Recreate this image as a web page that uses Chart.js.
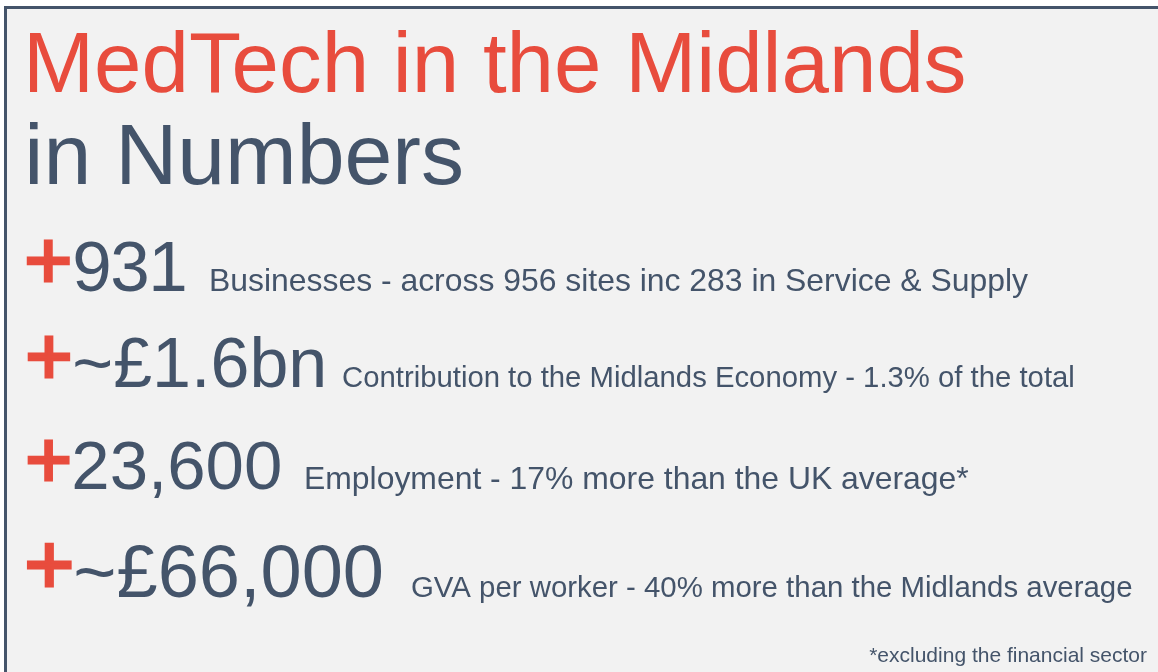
<!DOCTYPE html>
<html>
<head>
<meta charset="utf-8">
<script src="https://cdn.jsdelivr.net/npm/chart.js@4"></script>
<style>
  html, body { margin: 0; padding: 0; background: #ffffff; }
  #wrap { width: 1158px; height: 672px; }
</style>
</head>
<body>
<div id="wrap"><canvas id="grafico" width="1158" height="672"></canvas></div>
<script>
// headline text
const tituloLinha1 = 'MedTech in the Midlands';
const tituloLinha2 = 'in Numbers';
// the four headline figures and what they stand for
const figuras = ['931', '~£1.6bn', '23,600', '~£66,000'];
const descricoes = [
  'Businesses - across 956 sites inc 283 in Service & Supply',
  'Contribution to the Midlands Economy - 1.3% of the total',
  'Employment - 17% more than the UK average*',
  'GVA per worker - 40% more than the Midlands average'
];
const notaRodape = '*excluding the financial sector';

// styles
const VERMELHO = '#e84c3d';
const ARDOSIA = '#44546a';
const FUNDO = '#f2f2f2';
const FONTE = '"Liberation Sans", Arial, sans-serif';
const tamFigura = [71, 70, 69, 74];
const espacoFigura = ['-1.5px', '0px', '0px', '0px'];
const tamDescricao = [31.9, 29.3, 31.9, 29.4];
const xDescricao = [211, 343, 306, 412];   // ink left of each description
const ajusteBase = [2.4, -3, -1.8, 2.1];  // small per-row nudge of the baseline
const ESQ = 30;                           // ink left of title and plus signs

// place text so its ink (not its origin) starts at x
function textoEm(ctx, txt, xTinta, base) {
    const m = ctx.measureText(txt);
    ctx.fillText(txt, xTinta + m.actualBoundingBoxLeft, base);
    return xTinta + m.actualBoundingBoxLeft + m.actualBoundingBoxRight;
}

const textoPlugin = {
    id: 'textoPlugin',
    beforeDraw(chart) {
        const ctx = chart.ctx;
        ctx.save();
        ctx.fillStyle = '#ffffff';
        ctx.fillRect(0, 0, chart.width, chart.height);
        ctx.fillStyle = FUNDO;
        ctx.fillRect(4, 6, chart.width, chart.height);
        ctx.fillStyle = ARDOSIA;
        ctx.fillRect(4, 6, chart.width, 3);
        ctx.fillRect(4, 6, 3, chart.height);
        ctx.restore();
    },
    afterDraw(chart) {
        const ctx = chart.ctx;
        const y = chart.scales.y;
        ctx.save();
        ctx.textBaseline = 'alphabetic';
        ctx.textAlign = 'left';

        ctx.font = '85.3px ' + FONTE;
        ctx.fillStyle = VERMELHO;
        textoEm(ctx, tituloLinha1, ESQ, 92);
        ctx.font = '86px ' + FONTE;
        ctx.fillStyle = ARDOSIA;
        textoEm(ctx, tituloLinha2, ESQ - 0.7, 184);

        figuras.forEach((fig, i) => {
            const tam = tamFigura[i];
            const centro = y.getPixelForValue(i);
            const base = centro + tam * 0.716 / 2 + ajusteBase[i];
            const larguraMais = tam * 0.58;

            // red plus: regular weight, thickened with a thin outline
            ctx.font = '100px ' + FONTE;
            let m = ctx.measureText('+');
            const tamMais = 100 * larguraMais / (m.actualBoundingBoxLeft + m.actualBoundingBoxRight);
            ctx.font = tamMais + 'px ' + FONTE;
            m = ctx.measureText('+');
            const meioMais = base - tam * 0.716 + larguraMais / 2;
            const baseMais = meioMais + (m.actualBoundingBoxAscent - m.actualBoundingBoxDescent) / 2;
            ctx.fillStyle = VERMELHO;
            ctx.strokeStyle = VERMELHO;
            ctx.lineWidth = 3;
            const xMais = ESQ - 1.7 + m.actualBoundingBoxLeft;
            ctx.fillText('+', xMais, baseMais);
            ctx.strokeText('+', xMais, baseMais);
            const fimMais = xMais + m.actualBoundingBoxRight;

            ctx.font = tam + 'px ' + FONTE;
            ctx.letterSpacing = espacoFigura[i];
            ctx.fillStyle = ARDOSIA;
            textoEm(ctx, fig, fimMais + 6, base);
            ctx.letterSpacing = '0px';

            ctx.font = tamDescricao[i] + 'px ' + FONTE;
            textoEm(ctx, descricoes[i], xDescricao[i], base);
        });

        ctx.font = '21px ' + FONTE;
        ctx.textAlign = 'right';
        ctx.fillStyle = ARDOSIA;
        ctx.fillText(notaRodape, 1147, 662);
        ctx.restore();
    }
};

const ctx = document.getElementById('grafico').getContext('2d');
const grafico = new Chart(ctx, {
    type: 'bar',
    data: {
        labels: figuras,
        datasets: []
    },
    options: {
        responsive: false,
        animation: false,
        events: [],
        indexAxis: 'y',
        layout: { padding: { top: 212, bottom: 53, left: 0, right: 0 } },
        plugins: {
            legend: { display: false },
            tooltip: { enabled: false }
        },
        scales: {
            x: { display: false },
            y: { type: 'category', display: false, offset: true }
        }
    },
    plugins: [textoPlugin]
});
</script>
</body>
</html>
